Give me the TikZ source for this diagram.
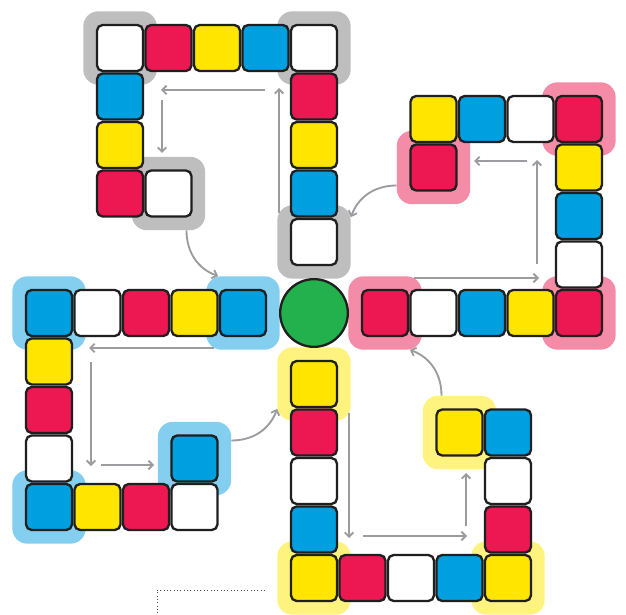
\documentclass[tikz,border=0pt]{standalone}
\usepackage{tikz}
\usetikzlibrary{arrows.meta}
\definecolor{cred}{RGB}{237,23,82}
\definecolor{cyellow}{RGB}{255,229,0}
\definecolor{cblue}{RGB}{0,160,224}
\definecolor{cgreen}{RGB}{34,177,76}
\definecolor{hgray}{RGB}{190,190,190}
\definecolor{hblue}{RGB}{132,207,239}
\definecolor{hyellow}{RGB}{255,243,128}
\definecolor{hpink}{RGB}{244,140,168}
\definecolor{guide}{RGB}{155,155,160}
\tikzstyle{cell} = [rectangle, draw=black!88, line width=0.07cm, rounded corners=0.17cm,
    minimum size=1.38cm, inner sep=0pt]
\tikzstyle{halo} = [rectangle, rounded corners=0.45cm, minimum size=2.2cm, inner sep=0pt]
\tikzstyle{flow} = [guide, line width=0.055cm, -{Straight Barb[length=1.3mm,width=2.6mm]}]

\begin{document}
\begin{tikzpicture}[x=0.03cm, y=0.03cm]
\useasboundingbox[fill=white] (0,0) rectangle (626,614);
\foreach \k/\hc in {0/hgray, 1/hblue, 2/hyellow, 3/hpink} {
  \begin{scope}[shift={(314,301)}, rotate=90*\k]
    \foreach \i/\cx/\cy in {0/0/71, 4/0/265, 8/-194/265, 12/-145.5/119.5}
      \node[halo, fill=\hc] (h\k-\i) at (\cx,\cy) {};
  \end{scope}
}
\foreach \k in {0,...,3} {
  \begin{scope}[shift={(314,301)}, rotate=90*\k]
    \foreach \i/\cx/\cy in {0/0/71, 1/0/119.5, 2/0/168, 3/0/216.5, 4/0/265,
        5/-48.5/265, 6/-97/265, 7/-145.5/265, 8/-194/265,
        9/-194/216.5, 10/-194/168, 11/-194/119.5, 12/-145.5/119.5} {
      \pgfmathparse{{"white","cblue","cyellow","cred"}[mod(\i+\k,4)]}
      \let\cc\pgfmathresult
      \node[cell, fill=\cc] (c\k-\i) at (\cx,\cy) {};
    }
    \coordinate (a\k-1) at (-35,100);
    \coordinate (a\k-2) at (-35,225);
    \coordinate (a\k-3) at (-49,223);
    \coordinate (a\k-4) at (-153,223);
    \coordinate (a\k-5) at (-152,213);
    \coordinate (a\k-6) at (-152,160);
    \draw[flow] (a\k-1) -- (a\k-2);
    \draw[flow] (a\k-3) -- (a\k-4);
    \draw[flow] (a\k-5) -- (a\k-6);
  \end{scope}
}
\foreach \k in {0,...,3} {
  \pgfmathtruncatemacro\kk{mod(\k+1,4)}
  \pgfmathtruncatemacro\sa{-64+90*\k}
  \pgfmathtruncatemacro\ea{mod(124+90*\k,360)}
  \pgfmathtruncatemacro\oa{-90+90*\k}
  \pgfmathtruncatemacro\ia{mod(160+90*\k,360)}
  \draw[flow] (h\k-12.\sa) to[out=\oa, in=\ia] (h\kk-0.\ea);
}
\node[circle, draw=black!88, line width=0.07cm, fill=cgreen, minimum size=2.03cm, inner sep=0pt]
  (home) at (314,301) {};
\draw[dotted, black!70, line width=0.03cm] (265,24) -- (157,24) -- (157,0);
\end{tikzpicture}
\end{document}
